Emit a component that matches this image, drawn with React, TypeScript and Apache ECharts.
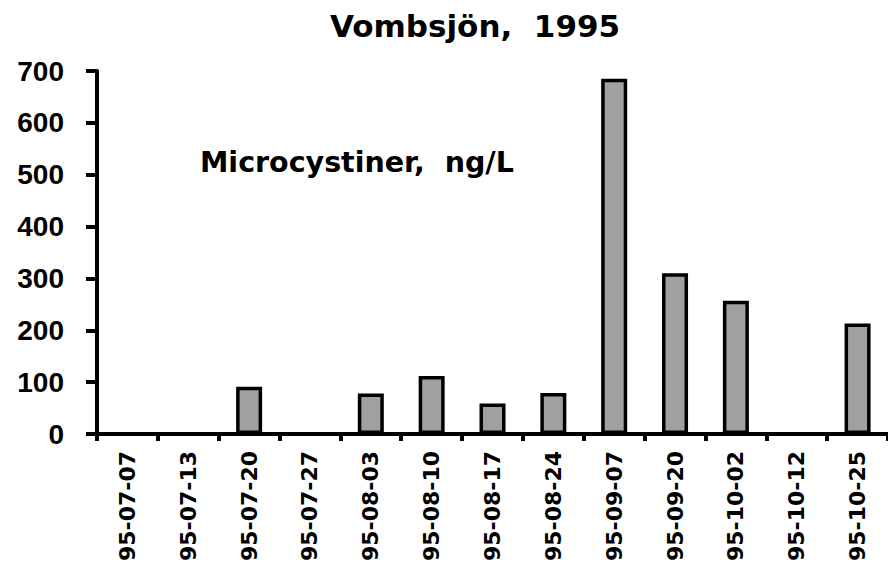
import React, { useEffect, useRef } from "react";
import * as echarts from "echarts";

const categories = [
  "95-07-07", "95-07-13", "95-07-20", "95-07-27", "95-08-03", "95-08-10", "95-08-17",
  "95-08-24", "95-09-07", "95-09-20", "95-10-02", "95-10-12", "95-10-25",
];
const microcystinValues = [0, 0, 91, 0, 78, 112, 59, 79, 685, 310, 257, 0, 213];
const titleText = "Vombsjön,  1995";
const annotationText = "Microcystiner,  ng/L";

export default function App() {
  const ref = useRef<HTMLDivElement>(null);
  useEffect(() => {
    if (!ref.current) return;
    const chart = echarts.init(ref.current, null, { renderer: "svg" });
    chart.setOption({
      animation: false,
      backgroundColor: "#ffffff",
      grid: { left: 97, right: -7, top: 71, bottom: 137, containLabel: false },
      graphic: [
        {
          type: "text",
          x: 475,
          y: 26,
          style: {
            text: titleText,
            fontFamily: "DejaVu Sans",
            fontWeight: "bold",
            fontSize: 31,
            fill: "#000",
            textAlign: "center",
            textVerticalAlign: "middle",
          },
        },
        {
          type: "text",
          x: 200,
          y: 162,
          style: {
            text: annotationText,
            fontFamily: "DejaVu Sans",
            fontWeight: "bold",
            fontSize: 28.5,
            fill: "#000",
            textAlign: "left",
            textVerticalAlign: "middle",
          },
        },
      ],
      xAxis: {
        type: "category",
        data: categories,
        boundaryGap: true,
        axisLine: { show: true, lineStyle: { color: "#000", width: 4 } },
        axisTick: { show: true, alignWithLabel: false, length: 7, lineStyle: { color: "#000", width: 4 } },
        axisLabel: {
          rotate: 90,
          margin: 17,
          interval: 0,
          fontFamily: "DejaVu Sans",
          fontWeight: "bold",
          fontSize: 22,
          color: "#000",
        },
        splitLine: { show: false },
      },
      yAxis: {
        type: "value",
        min: 0,
        max: 700,
        interval: 100,
        axisLine: { show: true, lineStyle: { color: "#000", width: 4 } },
        axisTick: { show: true, length: 11, lineStyle: { color: "#000", width: 4 } },
        axisLabel: {
          margin: 33,
          fontFamily: "Liberation Sans",
          fontWeight: "bold",
          fontSize: 28,
          color: "#000",
        },
        splitLine: { show: false },
      },
      series: [
        {
          type: "bar",
          data: microcystinValues,
          barWidth: 26,
          itemStyle: {
            color: "#a0a0a0",
            borderColor: "#000",
            borderWidth: 3.5,
          },
        },
      ],
    });
    return () => chart.dispose();
  }, []);
  return (
    <div
      ref={ref}
      style={{ position: "fixed", left: 0, top: 0, width: 888, height: 571 }}
    />
  );
}
